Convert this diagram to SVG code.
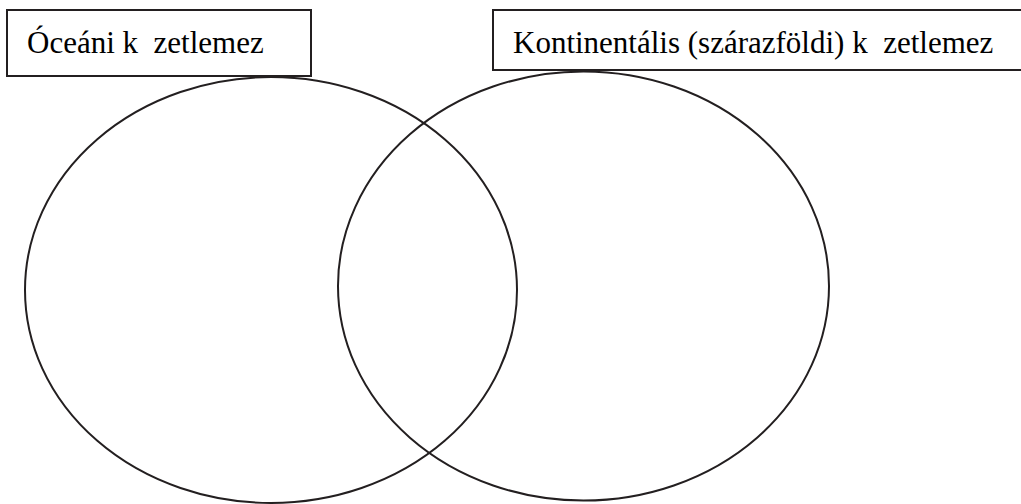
<svg xmlns="http://www.w3.org/2000/svg" width="1021" height="504" viewBox="0 0 1021 504">
<rect width="1021" height="504" fill="#fff"/>
<g id="oceanic">
<ellipse cx="271" cy="290" rx="246" ry="213" fill="none" stroke="#231f20" stroke-width="2"/>
</g>
<g id="continental">
<ellipse cx="583.5" cy="286" rx="245.5" ry="214.5" fill="none" stroke="#231f20" stroke-width="2"/>
</g>
<g id="connectors"></g>
<g id="label-oceanic">
<rect x="7" y="10" width="304" height="66" fill="#fff" stroke="#231f20" stroke-width="2"/>
<text x="27" y="53" font-size="31" font-family="Liberation Serif" style="font-family:'Liberation Serif',serif !important;font-size:31px !important" fill="#000">Óceáni k&#160;&#160;zetlemez</text>
</g>
<g id="label-continental">
<rect x="493" y="10" width="540" height="60" fill="#fff" stroke="#231f20" stroke-width="2"/>
<text x="513" y="53" font-size="31" font-family="Liberation Serif" style="font-family:'Liberation Serif',serif !important;font-size:31px !important" fill="#000">Kontinentális (szárazföldi) k&#160;&#160;zetlemez</text>
</g>
</svg>
